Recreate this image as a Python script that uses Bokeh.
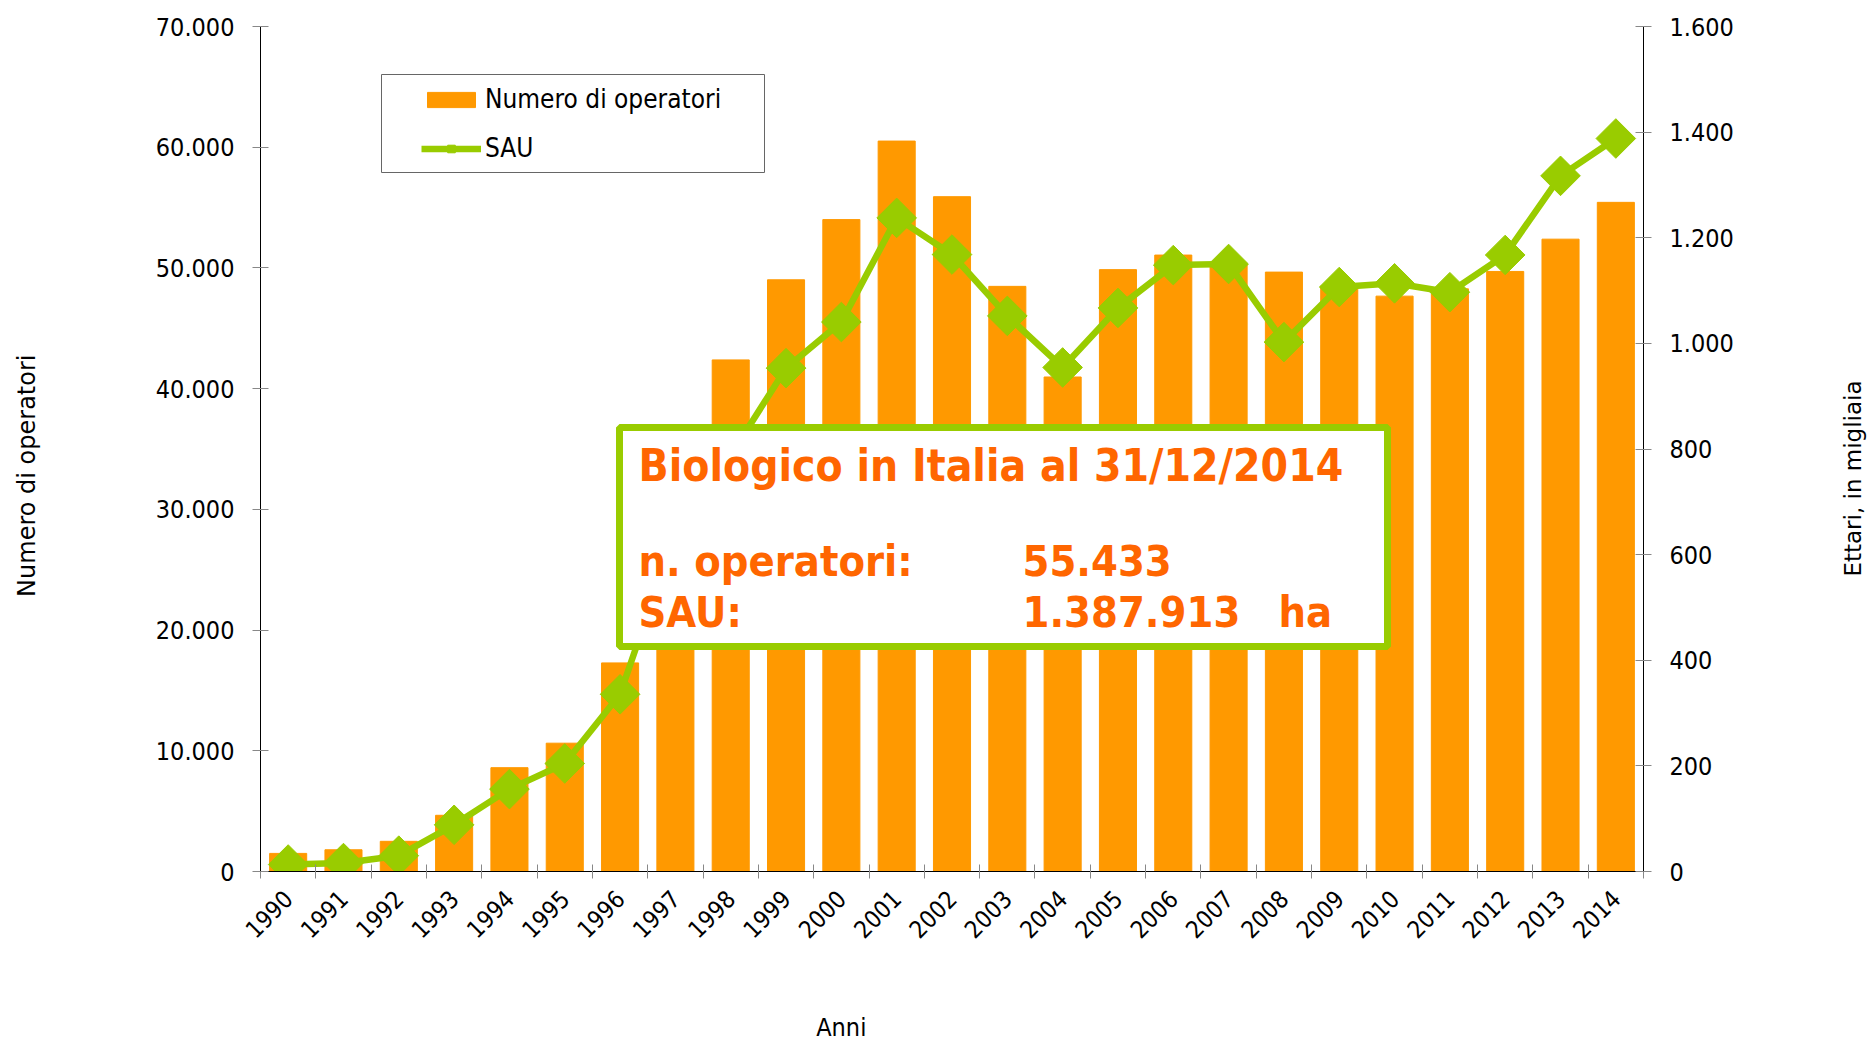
import math
from bokeh.plotting import figure
from bokeh.layouts import row
from bokeh.models import (Range1d, LinearAxis, FixedTicker,
                          CustomJSTickFormatter, Legend, LegendItem, BoxAnnotation, Label)
from bokeh.embed import file_html
from bokeh.resources import INLINE

# ---------------- data ----------------
years = [str(y) for y in range(1990, 2015)]
operatori = [1500, 1800, 2500, 4656, 8600, 10630, 17279, 30844, 42380, 49018,
             54004, 60509, 55902, 48473, 40965, 49859, 51065, 50276, 49654, 48509,
             47663, 48269, 49709, 52383, 55433]
sau_migliaia_ha = [13.2, 16.0, 30.0, 88.4, 156.0, 204.5, 335.5, 641.1, 788.1, 953.1,
                   1040.4, 1237.6, 1168.2, 1052.0, 954.4, 1067.1, 1148.2, 1150.3, 1002.4, 1106.7,
                   1113.7, 1096.9, 1167.4, 1317.2, 1387.9]
left_ticks = [0, 10000, 20000, 30000, 40000, 50000, 60000, 70000]
right_ticks = [0, 200, 400, 600, 800, 1000, 1200, 1400, 1600]

box_title = "Biologico in Italia al 31/12/2014"
box_rows = [("n. operatori:", "55.433", ""), ("SAU:", "1.387.913", "ha")]

ORANGE = "#FF9900"
GREEN = "#99CC00"
TXT_ORANGE = "#FF6600"
COND = "DejaVu Sans Condensed"
SANS = "DejaVu Sans"
NBSP = "\u00a0"

n = len(years)
xc = [i + 0.5 for i in range(n)]          # category centres
xb = list(range(n + 1))                   # category boundaries

W_MAIN = 1830
p = figure(width=W_MAIN, height=1046, x_range=Range1d(0, n), y_range=Range1d(0, 70000),
           output_backend="svg", toolbar_location=None,
           x_axis_location=None, y_axis_location=None,
           min_border_left=260, min_border_right=W_MAIN - 1643, min_border_top=26,
           min_border_bottom=175)
p.extra_y_ranges = {"sau": Range1d(0, 1600)}
p.grid.visible = False
p.outline_line_color = None
p.background_fill_color = "white"

fmt = CustomJSTickFormatter(code="return tick.toFixed(0).replace(/\\B(?=(\\d{3})+(?!\\d))/g, '.');")

# x axis: ticks at category boundaries, labels at centres
ax_ticks = LinearAxis(ticker=FixedTicker(ticks=xb),
                      formatter=CustomJSTickFormatter(code="return '';"),
                      major_tick_in=7, major_tick_out=7, major_tick_line_color="#888888",
                      minor_tick_line_color=None, axis_line_color="black",
                      major_label_text_font_size="1px", major_label_standoff=0)
p.add_layout(ax_ticks, "below")
ax_lab = LinearAxis(ticker=FixedTicker(ticks=xc),
                    major_label_overrides={c: y for c, y in zip(xc, years)},
                    major_tick_line_color=None, minor_tick_line_color=None, axis_line_color=None,
                    major_label_orientation=math.pi / 4, major_label_standoff=10,
                    major_label_text_font=COND, major_label_text_font_size="24px",
                    major_label_text_color="black",
                    axis_label="Anni" + NBSP * 31, axis_label_standoff=64,
                    axis_label_text_font=COND, axis_label_text_font_size="25px",
                    axis_label_text_font_style="normal", axis_label_text_color="black")
p.add_layout(ax_lab, "below")

ax_left = LinearAxis(ticker=FixedTicker(ticks=left_ticks), formatter=fmt,
                     major_tick_in=8, major_tick_out=8, major_tick_line_color="#888888",
                     minor_tick_line_color=None, axis_line_color="black",
                     major_label_standoff=18, major_label_text_font=COND,
                     major_label_text_font_size="25px", major_label_text_color="black",
                     axis_label="Numero di operatori" + NBSP * 7, axis_label_standoff=112,
                     axis_label_text_font=SANS, axis_label_text_font_size="24px",
                     axis_label_text_font_style="normal", axis_label_text_color="black")
p.add_layout(ax_left, "left")
ax_right = LinearAxis(y_range_name="sau", ticker=FixedTicker(ticks=right_ticks), formatter=fmt,
                      major_tick_in=8, major_tick_out=8, major_tick_line_color="#888888",
                      minor_tick_line_color=None, axis_line_color="black",
                      major_label_standoff=18, major_label_text_font=COND,
                      major_label_text_font_size="25px", major_label_text_color="black")
p.add_layout(ax_right, "right")

bars = p.vbar(x=xc, top=operatori, width=0.67, fill_color=ORANGE, line_color=ORANGE)
line = p.line(x=xc, y=sau_migliaia_ha, y_range_name="sau", line_color=GREEN, line_width=6.5)
pts = p.scatter(x=xc, y=sau_migliaia_ha, y_range_name="sau", marker="square",
                angle=math.pi / 4, size=28, fill_color=GREEN, line_color=GREEN)

# legend frame + legend
p.add_layout(BoxAnnotation(left=121, right=504, top=797, bottom=699,
                           left_units="screen", right_units="screen",
                           top_units="screen", bottom_units="screen",
                           fill_color="white", fill_alpha=1, line_color="#666666",
                           line_alpha=1, line_width=1))
legend = Legend(items=[LegendItem(label="Numero di operatori", renderers=[bars]),
                       LegendItem(label="SAU", renderers=[line, pts])],
                location=(161, 708), padding=0, margin=0, spacing=19,
                glyph_width=60, glyph_height=19, label_height=19, label_standoff=4,
                label_text_font=COND, label_text_font_size="26px", label_text_color="black",
                border_line_color=None, background_fill_alpha=0)
p.add_layout(legend)

# info box
p.add_layout(BoxAnnotation(left=359, right=1127, top=444, bottom=225,
                           left_units="screen", right_units="screen",
                           top_units="screen", bottom_units="screen",
                           fill_color="white", fill_alpha=1, line_color=GREEN,
                           line_alpha=1, line_width=7))
p.add_layout(Label(x=378, y=406, x_units="screen", y_units="screen", text=box_title,
                   text_font=COND, text_font_style="bold", text_font_size="44px",
                   text_color=TXT_ORANGE, text_baseline="alphabetic"))
row_y = [311, 260]
for (lab, val, unit), yy in zip(box_rows, row_y):
    p.add_layout(Label(x=378, y=yy, x_units="screen", y_units="screen", text=lab,
                       text_font=COND, text_font_style="bold", text_font_size="43px",
                       text_color=TXT_ORANGE, text_baseline="alphabetic"))
    p.add_layout(Label(x=762, y=yy, x_units="screen", y_units="screen", text=val,
                       text_font=COND, text_font_style="bold", text_font_size="43px",
                       text_color=TXT_ORANGE, text_baseline="alphabetic"))
    if unit:
        p.add_layout(Label(x=1018, y=yy, x_units="screen", y_units="screen", text=unit,
                           text_font=COND, text_font_style="bold", text_font_size="43px",
                           text_color=TXT_ORANGE, text_baseline="alphabetic"))

# right-hand axis title (reads bottom to top) in a narrow side panel whose frame
# is aligned with the main plot frame (page y 26..871)
W_SIDE = 1869 - W_MAIN
p2 = figure(width=W_SIDE, height=1046, x_range=Range1d(0, 1), y_range=Range1d(0, 1),
            output_backend="svg", toolbar_location=None,
            x_axis_location=None, y_axis_location=None, min_border=0)
p2.grid.visible = False
p2.outline_line_color = None
p2.add_layout(Label(x=1852 - W_MAIN, y=871 - 478, x_units="screen", y_units="screen",
                    text="Ettari, in migliaia", angle=math.pi / 2,
                    text_align="center", text_baseline="middle",
                    text_font=SANS, text_font_size="23px", text_color="black"))

layout = row(p, p2, spacing=0)
open("out.html", "w").write(file_html(layout, INLINE))
